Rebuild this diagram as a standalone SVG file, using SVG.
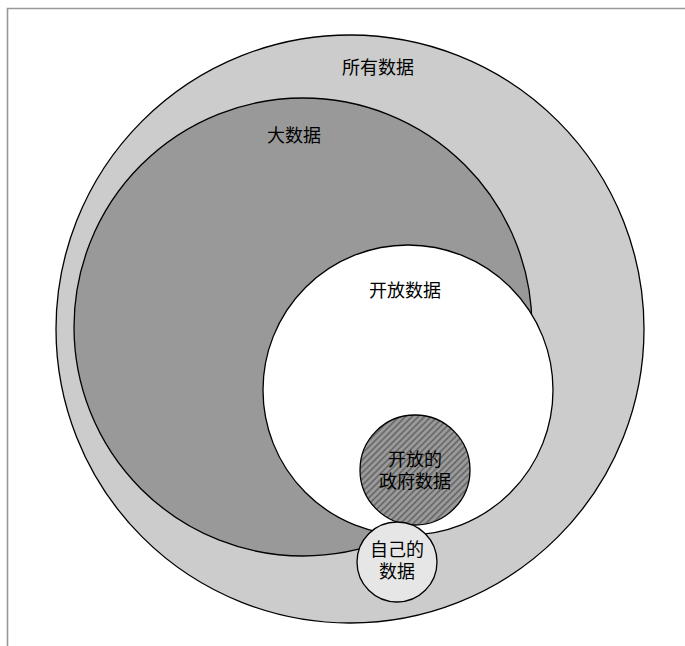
<svg xmlns="http://www.w3.org/2000/svg" width="685" height="646" viewBox="0 0 685 646">
  <defs>
    <pattern id="hatch" patternUnits="userSpaceOnUse" width="4.5" height="4.5" patternTransform="rotate(45)">
      <rect width="4.5" height="4.5" fill="#9a9a9a"/>
      <rect x="0" y="0" width="1.6" height="4.5" fill="#666666"/>
    </pattern>
  </defs>
  <style>
    .c { stroke: #000; stroke-width: 1.3; }
    .t { font-family: "Liberation Serif", "Noto Sans CJK SC", "Noto Sans CJK JP", serif; font-size: 18px; fill: #000; text-anchor: middle; }
  </style>
  <rect width="685" height="646" fill="#fff"/>
  <g id="frame" fill="none" stroke="#999" stroke-width="1.6">
    <path d="M7.5,646 V8.5 H685"/>
  </g>
  <g id="all-data">
    <circle class="c" cx="350" cy="329" r="294" fill="#cccccc"/>
    <text class="t" x="378" y="74">所有数据</text>
  </g>
  <g id="big-data">
    <circle class="c" cx="303" cy="327" r="229" fill="#999999"/>
    <text class="t" x="294" y="142">大数据</text>
  </g>
  <g id="open-data">
    <circle class="c" cx="408" cy="390" r="145" fill="#ffffff"/>
    <text class="t" x="405" y="297">开放数据</text>
  </g>
  <g id="open-gov-data">
    <circle class="c" cx="415" cy="470" r="55" fill="url(#hatch)"/>
    <text class="t" x="415" y="466"><tspan x="415">开放的</tspan><tspan x="415" dy="22">政府数据</tspan></text>
  </g>
  <g id="own-data">
    <circle class="c" cx="397" cy="562" r="40" fill="#e6e6e6"/>
    <text class="t" x="397" y="556"><tspan x="397">自己的</tspan><tspan x="397" dy="22">数据</tspan></text>
  </g>
  <g id="connectors"/>
</svg>
